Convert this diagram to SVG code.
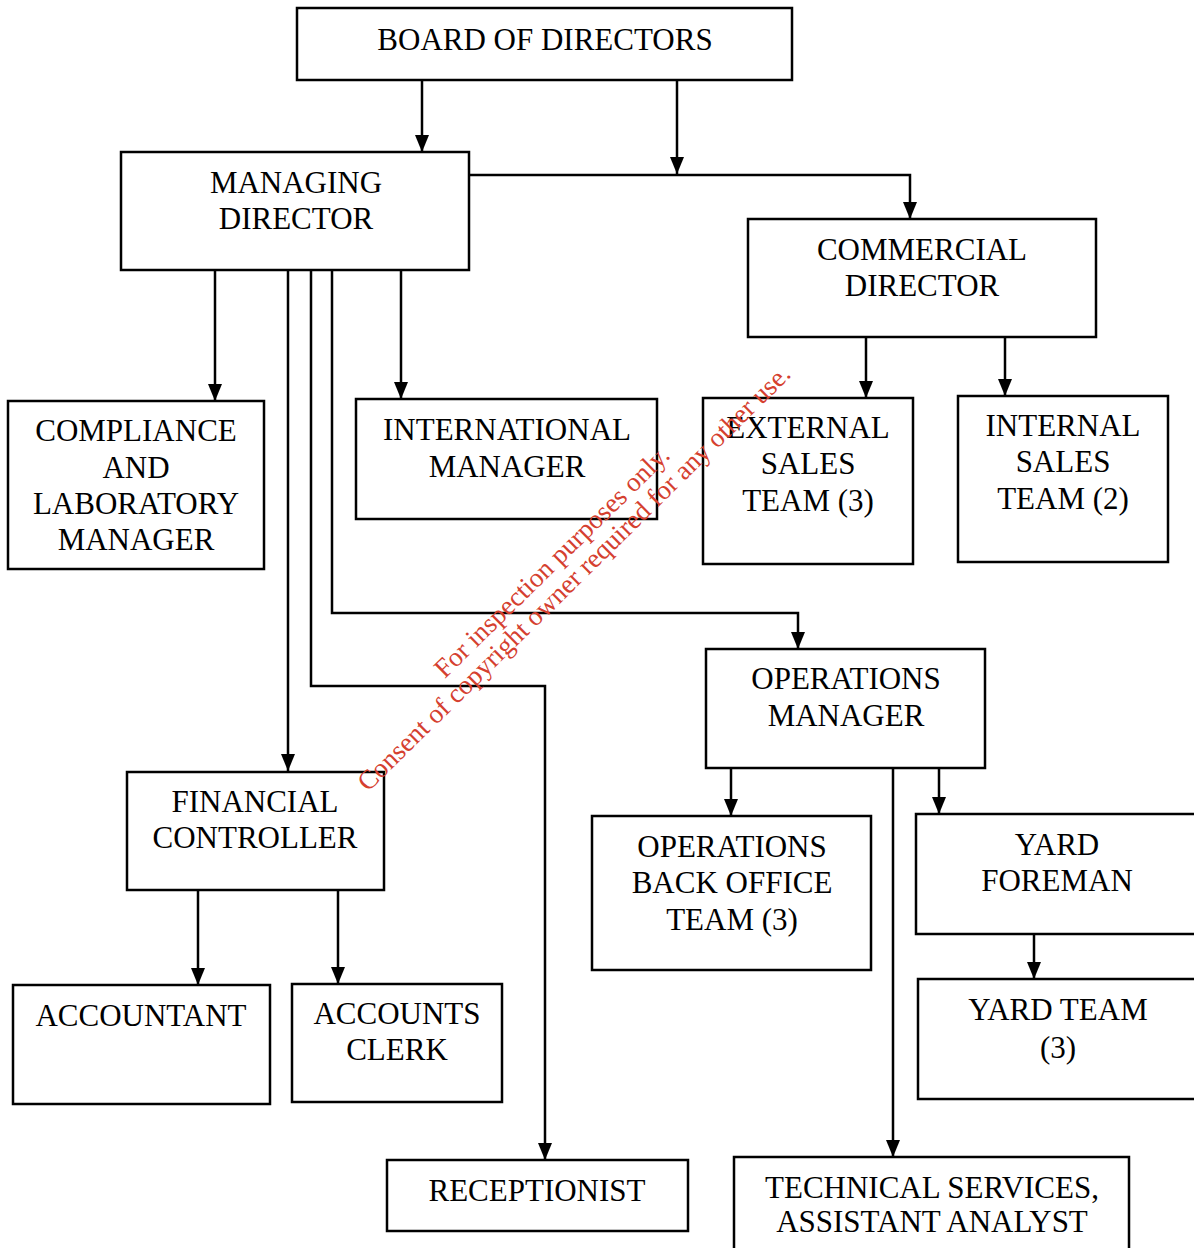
<svg xmlns="http://www.w3.org/2000/svg" width="1194" height="1248" viewBox="0 0 1194 1248">
<style>
.box{fill:#fff;stroke:#000;stroke-width:2.5}
.t{font-family:"Liberation Serif","Times New Roman",serif;font-size:31px;fill:#000;text-anchor:middle}
.c{fill:none;stroke:#000;stroke-width:2.5}
.wm{font-family:"Liberation Serif","Times New Roman",serif;font-size:27px;fill:#d5402f;text-anchor:middle}
</style>
<defs>
<marker id="ah" viewBox="0 0 17 14" refX="17" refY="7" markerWidth="17" markerHeight="14" markerUnits="userSpaceOnUse" orient="auto">
<path d="M0,0 L17,7 L0,14 z" fill="#000"/>
</marker>
</defs>
<rect width="1194" height="1248" fill="#fff"/>
<g id="connectors">
<path class="c" d="M422,80 V152" marker-end="url(#ah)"/>
<path class="c" d="M677,80 V174" marker-end="url(#ah)"/>
<path class="c" d="M469,175 H910 V219" marker-end="url(#ah)"/>
<path class="c" d="M215,270 V401" marker-end="url(#ah)"/>
<path class="c" d="M288,270 V771" marker-end="url(#ah)"/>
<path class="c" d="M311,270 V686 H545 V1160" marker-end="url(#ah)"/>
<path class="c" d="M332,270 V613 H798 V649" marker-end="url(#ah)"/>
<path class="c" d="M401,270 V399" marker-end="url(#ah)"/>
<path class="c" d="M866,337 V398" marker-end="url(#ah)"/>
<path class="c" d="M1005,337 V396" marker-end="url(#ah)"/>
<path class="c" d="M731,768 V816" marker-end="url(#ah)"/>
<path class="c" d="M939,768 V814" marker-end="url(#ah)"/>
<path class="c" d="M893,768 V1157" marker-end="url(#ah)"/>
<path class="c" d="M198,890 V985" marker-end="url(#ah)"/>
<path class="c" d="M338,890 V984" marker-end="url(#ah)"/>
<path class="c" d="M1034,934 V979" marker-end="url(#ah)"/>
</g>
<g id="board"><rect class="box" x="297" y="8" width="495" height="72"/><text class="t" x="545" y="50">BOARD OF DIRECTORS</text></g>
<g id="managing-director"><rect class="box" x="121" y="152" width="348" height="118"/><text class="t" x="296" y="193">MANAGING</text><text class="t" x="296" y="229">DIRECTOR</text></g>
<g id="commercial-director"><rect class="box" x="748" y="219" width="348" height="118"/><text class="t" x="922" y="260">COMMERCIAL</text><text class="t" x="922" y="296">DIRECTOR</text></g>
<g id="compliance"><rect class="box" x="8" y="401" width="256" height="168"/><text class="t" x="136" y="441">COMPLIANCE</text><text class="t" x="136" y="478">AND</text><text class="t" x="136" y="514">LABORATORY</text><text class="t" x="136" y="550">MANAGER</text></g>
<g id="international"><rect class="box" x="356" y="399" width="301" height="120"/><text class="t" x="507" y="440">INTERNATIONAL</text><text class="t" x="507" y="477">MANAGER</text></g>
<g id="external-sales"><rect class="box" x="703" y="398" width="210" height="166"/><text class="t" x="808" y="438">EXTERNAL</text><text class="t" x="808" y="474">SALES</text><text class="t" x="808" y="511">TEAM (3)</text></g>
<g id="internal-sales"><rect class="box" x="958" y="396" width="210" height="166"/><text class="t" x="1063" y="436">INTERNAL</text><text class="t" x="1063" y="472">SALES</text><text class="t" x="1063" y="509">TEAM (2)</text></g>
<g id="operations-manager"><rect class="box" x="706" y="649" width="279" height="119"/><text class="t" x="846" y="689">OPERATIONS</text><text class="t" x="846" y="726">MANAGER</text></g>
<g id="financial-controller"><rect class="box" x="127" y="772" width="257" height="118"/><text class="t" x="255" y="812">FINANCIAL</text><text class="t" x="255" y="848">CONTROLLER</text></g>
<g id="back-office"><rect class="box" x="592" y="816" width="279" height="154"/><text class="t" x="732" y="857">OPERATIONS</text><text class="t" x="732" y="893">BACK OFFICE</text><text class="t" x="732" y="930">TEAM (3)</text></g>
<g id="yard-foreman"><rect class="box" x="916" y="814" width="284" height="120"/><text class="t" x="1057" y="855">YARD</text><text class="t" x="1057" y="891">FOREMAN</text></g>
<g id="yard-team"><rect class="box" x="918" y="979" width="282" height="120"/><text class="t" x="1058" y="1020">YARD TEAM</text><text class="t" x="1058" y="1058">(3)</text></g>
<g id="accountant"><rect class="box" x="13" y="985" width="257" height="119"/><text class="t" x="141" y="1026">ACCOUNTANT</text></g>
<g id="accounts-clerk"><rect class="box" x="292" y="984" width="210" height="118"/><text class="t" x="397" y="1024">ACCOUNTS</text><text class="t" x="397" y="1060">CLERK</text></g>
<g id="receptionist"><rect class="box" x="387" y="1160" width="301" height="71"/><text class="t" x="537" y="1201">RECEPTIONIST</text></g>
<g id="technical"><rect class="box" x="734" y="1157" width="395" height="100"/><text class="t" x="932" y="1198">TECHNICAL SERVICES,</text><text class="t" x="932" y="1232">ASSISTANT ANALYST</text></g>
<g id="watermark">
<text class="wm" transform="translate(558,568) rotate(-44.5)">For inspection purposes only.</text>
<text class="wm" transform="translate(580,584) rotate(-44.5)">Consent of copyright owner required for any other use.</text>
</g>
</svg>
